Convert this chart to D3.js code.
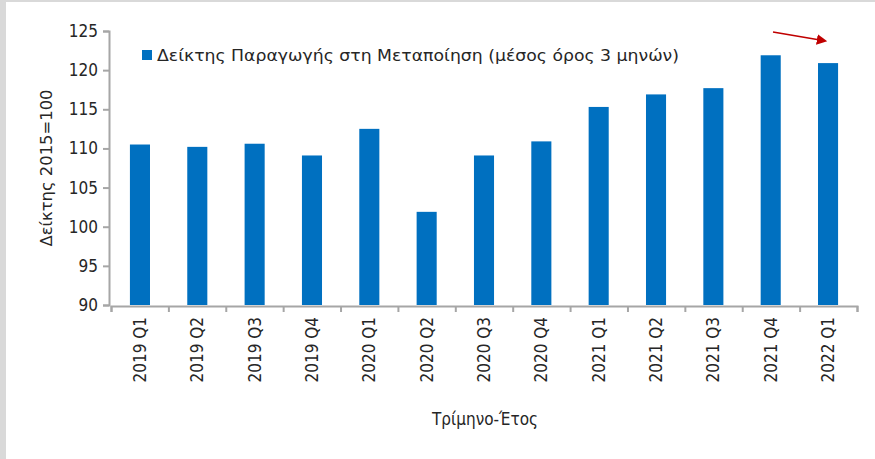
<!DOCTYPE html>
<html lang="el">
<head>
<meta charset="utf-8">
<script src="https://d3js.org/d3.v7.min.js"></script>
<style>
  body { margin: 0; background: #fff; }
  text { font-family: "DejaVu Sans", sans-serif; font-stretch: condensed; fill: #262626; }
</style>
</head>
<body>
<svg width="875" height="459"></svg>
<script>
// τρίμηνα και δείκτης παραγωγής (2015=100)
var quarters = ["2019 Q1", "2019 Q2", "2019 Q3", "2019 Q4",
                "2020 Q1", "2020 Q2", "2020 Q3", "2020 Q4",
                "2021 Q1", "2021 Q2", "2021 Q3", "2021 Q4", "2022 Q1"];
var values = [110.5, 110.2, 110.6, 109.1, 112.5, 101.9, 109.1, 110.9,
              115.3, 116.9, 117.7, 121.9, 120.9];
var yTicks = [90, 95, 100, 105, 110, 115, 120, 125];
var legendLabel = "Δείκτης Παραγωγής στη Μεταποίηση (μέσος όρος 3 μηνών)";

var svg = d3.select("svg");

// γκρι περίγραμμα
svg.append("rect").attr("x", 0).attr("y", 0).attr("width", 875).attr("height", 459).attr("fill", "#d9d9d9");
svg.append("rect").attr("x", 6).attr("y", 2).attr("width", 869).attr("height", 457).attr("fill", "#fff");

var x = d3.scaleBand().domain(quarters).range([111, 857]).paddingInner(0.65).paddingOuter(0.33);
var y = d3.scaleLinear().domain([90, 125]).range([305, 31]);

var g = svg.append("g");

// άξονας y
var yAxis = g.append("g")
    .attr("transform", "translate(109,0)")
    .call(d3.axisLeft(y).tickValues(yTicks).tickSize(6).tickPadding(5));
yAxis.selectAll("text").style("font-size", "17px").attr("fill", "#262626");

// άξονας x
var xAxis = g.append("g")
    .attr("transform", "translate(0,306)")
    .call(d3.axisBottom(d3.scaleLinear().domain([0, quarters.length]).range([111, 857]))
      .tickValues(d3.range(quarters.length + 1)).tickSize(6).tickFormat(""));

[yAxis, xAxis].forEach(function(a) {
  a.select(".domain").attr("stroke", "#a6a6a6").attr("stroke-width", 2);
  a.selectAll(".tick line").attr("stroke", "#a6a6a6").attr("stroke-width", 2);
});

// ετικέτες τριμήνων
g.selectAll(".qlabel")
  .data(quarters)
  .enter().append("text")
    .attr("class", "qlabel")
    .attr("transform", function(d) {
      return "translate(" + (x(d) + x.bandwidth() / 2 + 6) + ",317) rotate(-90)";
    })
    .attr("text-anchor", "end")
    .style("font-size", "17px")
    .text(function(d) { return d; });

// μπάρες
g.selectAll(".bar")
  .data(values)
  .enter().append("rect")
    .attr("class", "bar")
    .attr("x", function(d, i) { return x(quarters[i]); })
    .attr("width", x.bandwidth())
    .attr("y", function(d) { return y(d); })
    .attr("height", function(d) { return y(90) - y(d); })
    .attr("fill", "#0070c0");

// υπόμνημα
svg.append("rect").attr("x", 142).attr("y", 50).attr("width", 10).attr("height", 10).attr("fill", "#0070c0");
svg.append("text").attr("x", 157).attr("y", 61)
  .attr("textLength", 522).attr("lengthAdjust", "spacingAndGlyphs")
  .style("font-size", "15px").text(legendLabel);

// τίτλοι αξόνων
svg.append("text")
  .attr("transform", "translate(52,168) rotate(-90)")
  .attr("text-anchor", "middle")
  .attr("textLength", 157).attr("lengthAdjust", "spacingAndGlyphs")
  .style("font-size", "15px")
  .text("Δείκτης 2015=100");

svg.append("text")
  .attr("x", 485).attr("y", 425)
  .attr("text-anchor", "middle")
  .style("font-size", "17px")
  .text("Τρίμηνο-Έτος");

// κόκκινο βέλος
svg.append("defs").append("marker")
  .attr("id", "arrow").attr("viewBox", "0 0 10 10")
  .attr("refX", 3).attr("refY", 5)
  .attr("markerWidth", 7).attr("markerHeight", 7)
  .attr("orient", "auto")
  .append("path").attr("d", "M0,0 L10,5 L0,10 z").attr("fill", "#c00000");
svg.append("line")
  .attr("x1", 773).attr("y1", 32).attr("x2", 820).attr("y2", 40)
  .attr("stroke", "#c00000").attr("stroke-width", 1.5)
  .attr("marker-end", "url(#arrow)");
</script>
</body>
</html>
